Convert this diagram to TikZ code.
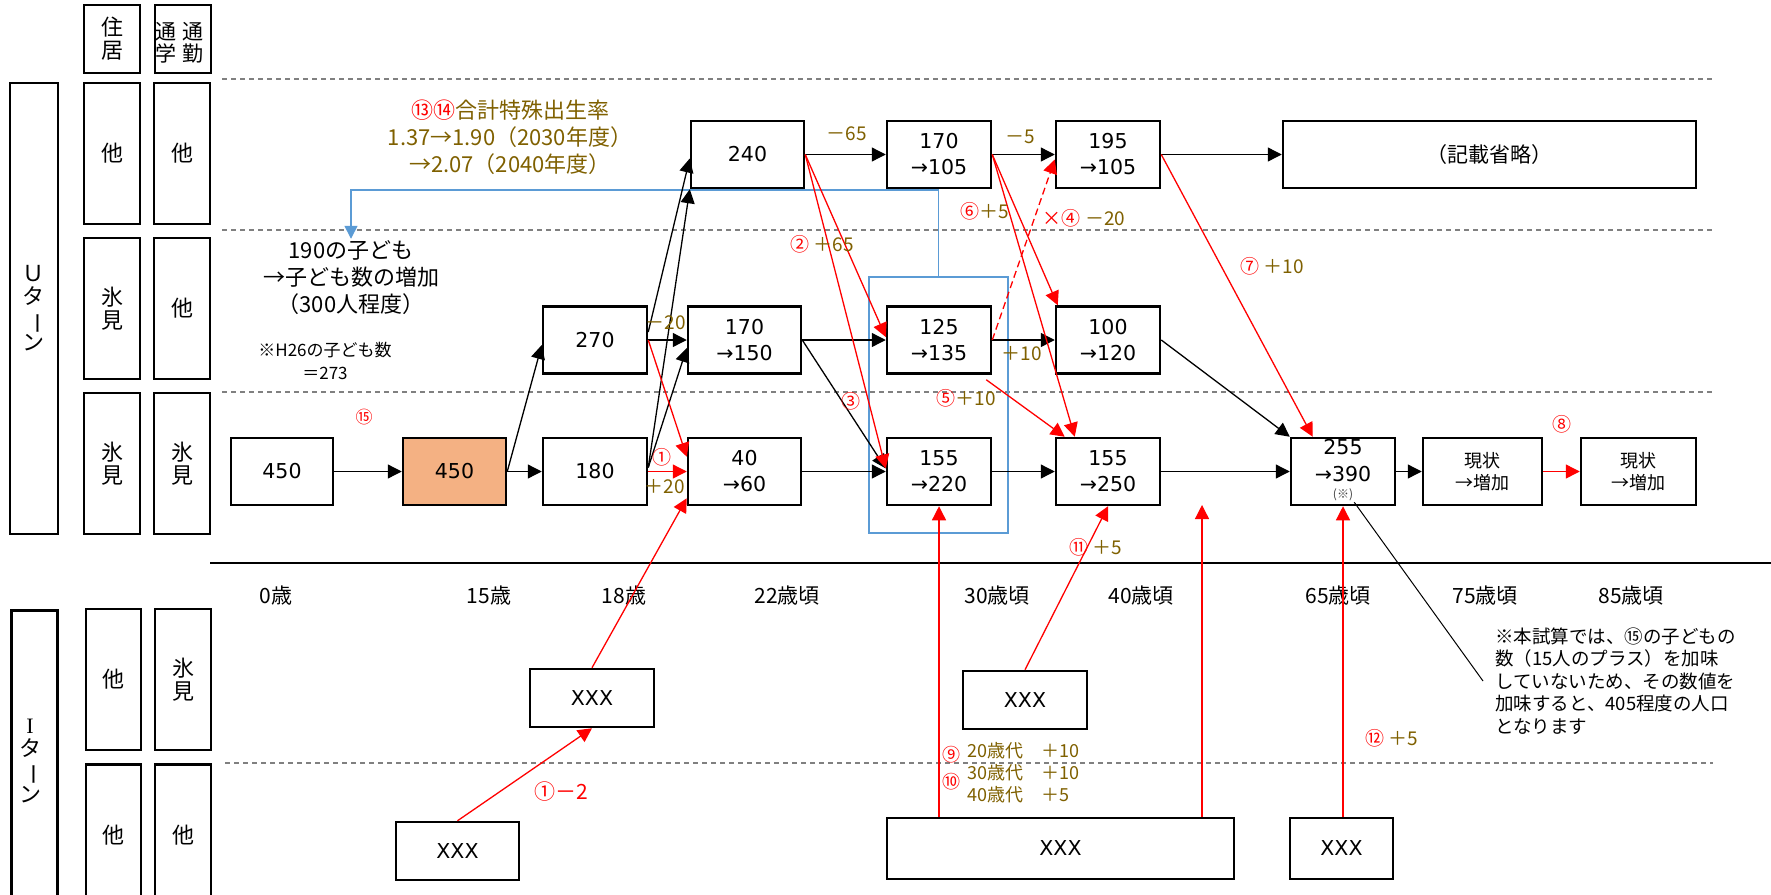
\documentclass[tikz,border=0pt]{standalone}
\usepackage{fontspec}
\usepackage{graphicx}
\setmainfont{Noto Sans CJK JP}
\newfontfamily\dv{DejaVu Sans}
\newfontfamily\lsr{Liberation Serif}
\usetikzlibrary{arrows.meta,calc}
\definecolor{amt}{RGB}{127,96,0}
\definecolor{rd}{RGB}{255,0,0}
\definecolor{bl}{RGB}{91,155,213}
\definecolor{org}{RGB}{244,177,131}
\definecolor{dgr}{RGB}{128,128,128}
\newcommand\fsz[2]{\fontsize{#1}{#2}\selectfont}
\newcommand\vbar{\rotatebox[origin=c]{-90}{ー}}
\begin{document}
\begin{tikzpicture}[x=1pt,y=-1pt,
  nbox/.style={draw, line width=2.5pt, fill=white, minimum height=67pt, inner sep=0pt, align=center, font=\dv\fsz{20.5}{26}},
  hcell/.style={draw, line width=2.5pt, inner sep=0pt, align=center, font=\fsz{22}{23}},
  xbox/.style={draw, line width=2.5pt, fill=white, inner sep=0pt, font=\dv\fsz{20.5}{26}},
  karr/.style={draw=black, line width=1.3pt, -{Triangle[length=14pt,width=14pt]}},
  rarr/.style={draw=rd, line width=1.3pt, -{Triangle[length=14pt,width=14pt]}},
  rdash/.style={dash pattern=on 7pt off 4pt},
  dline/.style={draw=dgr, line width=1.2pt, dash pattern=on 5pt off 4pt},
  amtl/.style={text=amt, font=\fsz{19}{23}, inner sep=0pt},
  redl/.style={text=rd, font=\fsz{19}{23}, inner sep=0pt},
  agel/.style={font=\fsz{21}{25}, inner sep=0pt}
]
\useasboundingbox (0,0) rectangle (1771,894);

% guide lines
\draw[dline] (222,79) -- (1713,79);
\draw[dline] (222,230) -- (1713,230);
\draw[dline] (222,392) -- (1713,392);
\draw[dline] (225,763) -- (1713,763);
\draw[line width=1.3pt] (210,563) -- (1771,563);

% header and row cells
\node[hcell, minimum width=56pt, minimum height=68pt] (hJu) at (112,39) {住\\居};
\node[hcell, minimum width=56pt, minimum height=68pt] (hTsu) at (183,39) {};
\node[font=\fsz{21}{22}, align=center, inner sep=0pt] (tGaku) at (166,43) {通\\学};
\node[font=\fsz{21}{22}, align=center, inner sep=0pt] (tKin) at (193,43) {通\\勤};

\node[hcell, minimum width=48pt, minimum height=451pt] (uBox) at (34,308.5) {Ｕ\\タ\\\vbar\\ン};
\node[hcell, minimum width=56pt, minimum height=141pt] (r1a) at (112,153.5) {他};
\node[hcell, minimum width=56pt, minimum height=141pt] (r1b) at (182,153.5) {他};
\node[hcell, minimum width=56pt, minimum height=141pt] (r2a) at (112,308.5) {氷\\見};
\node[hcell, minimum width=56pt, minimum height=141pt] (r2b) at (182,308.5) {他};
\node[hcell, minimum width=56pt, minimum height=141pt] (r3a) at (112,463.5) {氷\\見};
\node[hcell, minimum width=56pt, minimum height=141pt] (r3b) at (182,463.5) {氷\\見};

\node[hcell, minimum width=46pt, minimum height=300pt, anchor=north] (iBox) at (34.5,609) {};
\node[font=\fsz{22}{23}, align=center, inner sep=0pt] (iTxt) at (30,761) {{\lsr I}\\タ\\\vbar\\ン};
\node[hcell, minimum width=55pt, minimum height=141pt] (i1a) at (113.5,679.5) {他};
\node[hcell, minimum width=56pt, minimum height=141pt] (i1b) at (183,679.5) {氷\\見};
\node[hcell, minimum width=55pt, minimum height=142pt, anchor=north] (i2a) at (113.5,763) {他};
\node[hcell, minimum width=56pt, minimum height=142pt, anchor=north] (i2b) at (183,763) {他};

% blue frame and connector
\node[draw=bl, line width=2pt, minimum width=139pt, minimum height=256pt, inner sep=0pt] (blue) at (938.5,405) {};
\node[font=\fsz{22}{27}, align=center, inner sep=2pt] (kids) at (351,278) {190の子ども\\→子ども数の増加\\（300人程度）};
\coordinate (bturn) at (351,190);
\draw[draw=bl, line width=1.5pt, -{Triangle[length=13pt,width=13pt]}] (blue.north) |- (bturn) -- (kids.north);

% texts
\node[font=\fsz{22}{27}, align=center, text=amt, inner sep=0pt] (tfr) at (510,137) {{\color{rd}⑬⑭}合計特殊出生率\\1.37→1.90（2030年度）\\→2.07（2040年度）};
\node[font=\fsz{17}{23}, align=center, inner sep=0pt] (h26) at (325,361) {※H26の子ども数\\＝273};

% main boxes
\node[nbox, minimum width=102pt] (b450a) at (282,471.5) {450};
\node[nbox, minimum width=103pt, fill=org] (b450b) at (454.5,471.5) {450};
\node[nbox, minimum width=104pt] (b180) at (595,471.5) {180};
\node[nbox, minimum width=104pt] (b270) at (595,340) {270};
\node[nbox, minimum width=113pt] (b240) at (747.5,154.5) {240};
\node[nbox, minimum width=113pt] (b170150) at (744.5,340) {170\\→150};
\node[nbox, minimum width=113pt] (b4060) at (744.5,471.5) {40\\→60};
\node[nbox, minimum width=104pt] (b170105) at (939,154.5) {170\\→105};
\node[nbox, minimum width=104pt] (b125) at (939,340) {125\\→135};
\node[nbox, minimum width=104pt] (b155220) at (939,471.5) {155\\→220};
\node[nbox, minimum width=104pt] (b195) at (1108,154.5) {195\\→105};
\node[nbox, minimum width=104pt] (b100) at (1108,340) {100\\→120};
\node[nbox, minimum width=104pt] (b155250) at (1108,471.5) {155\\→250};
\node[nbox, minimum width=413pt, font=\fsz{21}{26}] (bOmit) at (1489.5,154.5) {（記載省略）};
\node[nbox, minimum width=104pt] (b255) at (1343,471.5) {};
\node[align=center, inner sep=0pt, font=\dv\fsz{20.5}{27}] (t255) at (1343,461) {255\\→390};
\node[inner sep=1pt, font=\fsz{12}{14}, text=black!75] (ref) at (1343,495) {(※)};
\node[nbox, minimum width=119pt, font=\fsz{18}{22}] (bG1) at (1482.5,471.5) {現状\\→増加};
\node[nbox, minimum width=115pt, font=\fsz{18}{22}] (bG2) at (1638.5,471.5) {現状\\→増加};

\node[xbox, minimum width=124pt, minimum height=58pt] (xI1) at (592,698) {XXX};
\node[xbox, minimum width=123pt, minimum height=58pt] (xI2) at (457.5,851) {XXX};
\node[xbox, minimum width=124pt, minimum height=58pt] (x30) at (1025,700) {XXX};
\node[xbox, minimum width=347pt, minimum height=61pt] (xBig) at (1060.5,848.5) {XXX};
\node[xbox, minimum width=103pt, minimum height=61pt] (x65) at (1341.5,848.5) {XXX};

% age labels
\node[agel] (a0) at (276,596) {0歳};
\node[agel] (a15) at (489,596) {15歳};
\node[agel] (a18) at (624,596) {18歳};
\node[agel] (a22) at (787,596) {22歳頃};
\node[agel] (a30) at (997,596) {30歳頃};
\node[agel] (a40) at (1141,596) {40歳頃};
\node[agel] (a65) at (1338,596) {65歳頃};
\node[agel] (a75) at (1485,596) {75歳頃};
\node[agel] (a85) at (1631,596) {85歳頃};

% note
\node[anchor=west, align=left, font=\fsz{18.5}{22.5}, inner xsep=12pt, inner ysep=0pt] (note) at (1483,681) {※本試算では、⑮の子どもの\\数（15人のプラス）を加味\\していないため、その数値を\\加味すると、405程度の人口\\となります};
\draw[line width=1pt] (ref.south east) -- (note.west);

% black arrows
\draw[karr] (b450a) -- (b450b);
\draw[karr] (b450b) -- (b180);
\draw[karr] (b450b.east) -- ([yshift=-5pt]b270.west);
\draw[karr] (b270) -- (b170150);
\draw[karr] ([yshift=8pt]b270.east) -- ([yshift=-4pt]b240.west);
\draw[karr] ([yshift=4pt]b180.east) -- (b240.south west);
\draw[karr] ([yshift=4pt]b180.east) -- ([yshift=-8pt]b170150.west);
\draw[karr] (b240) -- (b170105);
\draw[karr] (b170105) -- (b195);
\draw[karr] (b195) -- (bOmit);
\draw[karr] (b170150) -- (b125);
\draw[karr] (b170150.east) -- ([yshift=3pt]b155220.west);
\draw[karr] (b4060) -- (b155220);
\draw[karr] (b125) -- (b100);
\draw[karr] (b155220) -- (b155250);
\draw[karr] (b155250) -- (b255);
\draw[karr] (b100.east) -- (b255.north west);
\draw[karr] (b255) -- (bG1);

% red arrows
\draw[rarr] (b270.east) -- ([yshift=-20pt]b4060.north west);
\draw[rarr] (b180) -- (b4060);
\draw[rarr] (xI1.north) -- ([yshift=8pt]b4060.south west);
\draw[rarr] (xI2.north) -- (xI1.south);
\draw[rarr] (b240.east) -- ([yshift=3pt]b125.west);
\draw[rarr] (b240.east) -- ([yshift=3pt]b155220.west);
\draw[rarr] (b170105.east) -- ([xshift=3pt]b100.north west);
\draw[rarr] (b170105.east) -- ([xshift=20pt]b155250.north west);
\draw[rarr, rdash] (b125.east) -- ([yshift=-5pt]b195.west);
\draw[rarr] ([xshift=-6pt,yshift=-5pt]b125.south east) -- ([xshift=10pt]b155250.north west);
\draw[rarr] (b195.east) -- ([xshift=23pt]b255.north west);
\draw[rarr] (bG1) -- (bG2);
\draw[rarr] (x30.north) -- (b155250.south);
\draw[rarr] (b155220.south |- xBig.north) -- (b155220.south);
\coordinate (gap) at (1202,505);
\draw[rarr] (gap |- xBig.north) -- (gap);
\draw[rarr] (b255.south |- x65.north) -- (b255.south);

% connector labels
\node[amtl] (l65) at (847,134) {－65};
\node[amtl] (l5) at (1020,137) {－5};
\node[amtl] (l2) at (822,244) {{\color{rd}②} ＋65};
\node[redl] (l3) at (851,401) {③};
\node[amtl] (l6) at (985,211) {{\color{rd}⑥}＋5};
\node[amtl] (l4) at (1084,218) {{\color{rd}×④} －20};
\node[amtl] (l10a) at (1022,354) {＋10};
\node[amtl] (l5b) at (966,398) {{\color{rd}⑤}＋10};
\node[amtl] (l7) at (1272,266) {{\color{rd}⑦} ＋10};
\node[redl] (l8) at (1562,424) {⑧};
\node[redl] (l1) at (662,457) {①};
\node[amtl] (l20) at (665,487) {＋20};
\node[amtl] (lm20) at (666,323) {－20};
\node[redl, font=\fsz{17}{20}] (l15) at (364,417) {⑮};
\node[redl, font=\fsz{21}{24}] (l12) at (561,792) {①－2};
\node[amtl] (l11) at (1096,547) {{\color{rd}⑪} ＋5};
\node[amtl] (l12b) at (1392,738) {{\color{rd}⑫} ＋5};
\node[redl, font=\fsz{18}{22}] (l9) at (951,755) {⑨};
\node[redl, font=\fsz{18}{22}] (l10) at (951,782) {⑩};
\node[anchor=west, align=left, text=amt, font=\fsz{18}{22}, inner sep=0pt] (ages) at (967,773) {20歳代　＋10\\30歳代　＋10\\40歳代　＋5};
\end{tikzpicture}
\end{document}
